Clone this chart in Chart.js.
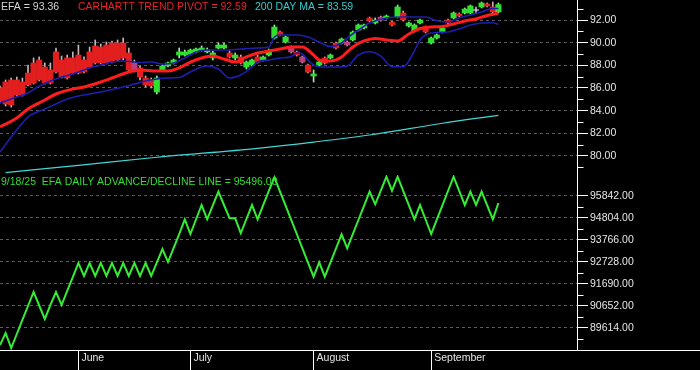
<!DOCTYPE html>
<html><head><meta charset="utf-8">
<script src="https://cdn.jsdelivr.net/npm/chart.js@4.4.1/dist/chart.umd.min.js"></script>
<style>html,body{margin:0;padding:0;background:#000;}canvas{display:block;}</style>
</head><body>
<canvas id="c" width="700" height="370"></canvas>
<script>
// ---------- DATA ----------
const dates = [
 '5/12','5/13','5/14','5/15','5/16','5/19','5/20','5/21','5/22','5/23','5/27','5/28','5/29','5/30',
 '6/2','6/3','6/4','6/5','6/6','6/9','6/10','6/11','6/12','6/13','6/16','6/17','6/18','6/20','6/23','6/24','6/25','6/26','6/27','6/30',
 '7/1','7/2','7/3','7/7','7/8','7/9','7/10','7/11','7/14','7/15','7/16','7/17','7/18','7/21','7/22','7/23','7/24','7/25','7/28','7/29','7/30','7/31',
 '8/1','8/4','8/5','8/6','8/7','8/8','8/11','8/12','8/13','8/14','8/15','8/18','8/19','8/20','8/21','8/22','8/25','8/26','8/27','8/28','8/29',
 '9/2','9/3','9/4','9/5','9/8','9/9','9/10','9/11','9/12','9/15','9/16','9/17','9/18'
];
const monthStarts = ['6/2','7/1','8/1','9/2'];
const monthNames = ['June','July','August','September'];

const upperTicks = [80,82,84,86,88,90,92];
const upperMinor = [79,81,83,85,87,89,91,93];
const lowerTicks = [89614,90652,91690,92728,93766,94804,95842];
const lowerMinor = [89095,90133,91171,92209,93247,94285,95323];

const opens = [86.00,86.53,86.71,86.71,86.53,87.32,88.21,88.47,87.85,87.59,89.18,88.47,88.65,88.65,
 88.91,88.47,89.18,89.71,89.62,89.79,89.97,89.97,89.97,89.09,88.21,87.76,86.88,86.71,85.65,87.59,87.94,88.21,88.91,88.91,
 89.00,89.18,89.35,89.18,88.65,89.53,89.53,89.09,88.65,88.74,87.85,88.03,88.74,88.47,88.91,90.41,90.94,90.06,89.62,89.18,88.74,88.03,
 87.06,88.03,88.65,88.65,89.97,89.97,90.06,90.24,91.12,91.29,92.18,91.74,92.26,92.18,91.82,92.26,92.62,91.47,91.03,91.74,91.38,
 89.97,90.41,90.94,92.00,92.18,92.53,92.62,92.62,92.90,93.15,93.41,93.15,92.71];
const highs = [86.18,86.71,86.88,86.97,86.88,88.03,88.65,88.74,88.21,88.21,89.53,88.82,88.91,89.18,
 89.79,88.74,89.62,90.24,89.88,90.06,90.15,90.24,90.41,89.53,88.47,87.94,87.06,86.88,87.06,88.03,88.29,88.56,89.53,89.35,
 89.44,89.53,89.71,89.53,89.26,89.97,89.97,89.26,89.09,88.91,88.38,88.56,88.91,88.82,89.44,91.56,91.03,90.59,89.71,89.26,88.82,88.12,
 87.59,88.38,88.74,89.00,90.06,90.41,90.15,91.03,91.65,91.65,92.26,92.18,92.35,92.44,91.91,93.32,92.79,91.82,91.65,92.09,91.47,
 90.50,90.77,91.38,92.09,92.71,92.62,93.06,93.32,93.15,93.59,93.50,93.59,93.50];
const lows = [84.68,84.41,84.32,85.29,85.29,86.18,86.35,86.62,86.35,86.35,87.32,86.88,86.79,87.24,
 87.24,87.32,87.77,88.12,88.12,88.12,88.21,88.38,88.47,87.41,87.41,86.71,86.09,86.00,85.47,87.50,87.85,88.12,88.65,88.82,
 88.91,89.09,89.26,89.09,88.47,89.44,89.44,88.65,88.47,88.12,87.68,87.94,88.21,88.38,88.82,90.32,90.59,89.97,89.09,88.82,88.21,87.32,
 86.53,87.94,88.12,88.56,89.44,89.88,89.71,90.15,91.03,91.21,91.82,91.65,91.91,92.09,91.47,92.18,91.91,91.38,90.94,91.65,90.85,
 89.88,90.32,90.85,91.65,92.09,92.26,92.53,92.53,92.62,93.06,93.15,92.62,92.62];
const closes = [84.85,84.59,84.50,85.38,85.38,86.27,86.44,86.71,86.44,86.44,87.41,86.97,86.88,87.32,
 87.32,87.41,87.85,88.21,88.21,88.21,88.29,88.47,88.65,87.59,87.59,86.97,86.27,86.18,86.88,87.94,88.21,88.47,89.18,89.18,
 89.35,89.44,89.53,89.35,89.09,89.79,89.79,88.74,88.91,88.21,88.29,88.47,88.29,88.74,89.18,91.38,90.68,90.50,89.18,88.91,88.29,87.41,
 87.24,88.29,88.21,88.91,89.53,90.32,89.79,90.94,91.56,91.56,91.91,92.00,92.00,92.35,91.56,93.15,92.00,91.74,91.56,92.00,90.94,
 90.41,90.68,91.29,91.74,92.62,92.35,92.97,93.24,92.86,93.50,93.24,92.71,93.36];
// sessions whose bar is shaded magenta in the reference
const magentaDays = ['6/16','7/28','7/30','8/11','8/19'];

const pivotDates = ['5/12','5/15','5/19','5/22','5/27','5/30','6/3','6/6','6/10','6/13','6/17','6/23','6/25','6/27','7/1','7/3','7/8','7/10','7/14','7/16','7/18','7/22','7/24','7/28','7/30','8/1','8/4','8/6','8/8','8/11','8/12','8/14','8/18','8/20','8/22','8/26','8/28','9/2','9/4','9/8','9/10','9/12','9/16','9/18'];
const pivotVals = [82.56,83.35,84.15,84.94,85.47,85.91,86.09,86.53,86.88,87.41,87.59,87.50,87.50,87.77,88.29,88.65,88.82,88.56,88.29,88.74,89.09,89.26,89.44,89.62,89.62,88.91,88.47,88.38,88.74,89.18,89.62,90.15,90.37,90.24,90.15,90.77,91.25,91.38,91.43,91.65,91.91,92.09,92.40,92.59];

const upperBandDates = ['5/12','5/14','5/16','5/19','5/21','5/23','5/28','5/30','6/4','6/6','6/10','6/12','6/17','6/20','6/24','6/26','6/30','7/2','7/7','7/10','7/15','7/18','7/22','7/23','7/24','7/29','7/31','8/4','8/6','8/8','8/11','8/13','8/15','8/20','8/25','8/29','9/3','9/5','9/9','9/11','9/15','9/17','9/18'];
const upperBandVals = [84.68,85.03,85.38,85.56,86.18,86.62,86.97,87.24,87.77,88.03,88.29,88.38,88.25,88.29,88.12,88.21,88.65,89.18,89.35,89.35,89.44,89.53,89.62,90.50,90.68,90.68,90.50,90.06,89.66,89.97,90.41,91.12,91.74,92.18,92.26,92.26,91.93,91.82,92.18,92.44,92.71,93.01,93.01];

const lowerBandDates = ['5/12','5/14','5/16','5/19','5/22','5/27','5/29','6/2','6/6','6/12','6/16','6/18','6/23','6/25','6/27','7/1','7/3','7/7','7/9','7/11','7/15','7/17','7/18','7/22','7/24','7/28','7/29','7/30','7/31','8/1','8/4','8/7','8/11','8/13','8/15','8/19','8/21','8/25','8/27','8/28','9/2','9/5','9/9','9/11','9/15','9/17','9/18'];
const lowerBandVals = [80.35,81.68,82.91,83.44,84.15,84.59,85.03,85.29,85.65,86.09,86.35,86.62,86.79,86.88,86.93,87.41,87.85,87.94,87.68,86.88,87.15,87.85,88.29,88.47,88.65,88.76,89.09,89.00,88.47,88.03,87.85,87.85,87.94,88.91,89.20,88.82,87.88,87.88,89.27,90.24,90.85,90.94,91.21,91.56,91.74,91.76,91.60];

const maDates = ['5/13','6/2','6/23','7/18','8/1','8/15','9/4','9/18'];
const maVals = [78.53,79.18,79.89,80.68,81.23,81.85,82.89,83.59];

const adLine = [88798,89364,88656,89317,89978,90638,91299,90662,90025,90685,91299,90685,91346,92006,
 92667,92053,92667,92053,92667,92053,92667,92053,92667,92053,92667,92053,92667,92053,92690,93327,92714,93374,94035,94729,
 94035,94719,95403,94729,95380,96031,95403,94776,94776,94068,94743,95403,94729,95403,96064,96710,96040,95370,94700,94035,93360,92690,
 92020,92700,92020,92690,93351,94021,93360,94026,94696,95365,96031,95436,96087,96738,96078,96738,96068,95399,94729,95403,94719,
 94035,94710,95389,96064,96738,96073,95403,96031,95403,96031,95380,94729,95496];

const adDateLabel = '9/18/25';
const tickerName = 'EFA';

// ---------- CHART ----------
const FONT = '"Liberation Sans", Arial, sans-serif';
Chart.defaults.font.family = FONT;
const idx = d => dates.indexOf(d);
const pts = (ds, vs) => ds.map((d, i) => ({x: idx(d), y: vs[i]}));
const candleColor = i => {
  if (magentaDays.includes(dates[i])) return '#b8407e';
  if (Math.abs(closes[i] - opens[i]) < 0.05) return '#dcdcf0';
  return closes[i] > opens[i] ? '#2fe02f' : '#e21e1e';
};
const wickColor = i => closes[i] > opens[i] ? '#a8e8a8' : '#c8b4b4';

const overlay = {
  id: 'overlay',
  afterDraw(chart) {
    const {ctx, scales, chartArea} = chart;
    ctx.save();
    ctx.strokeStyle = '#ffffff'; ctx.lineWidth = 1; ctx.setLineDash([]);
    const ax = Math.round(chartArea.right) + 0.5;
    const minor = (scale, v) => {
      const y = Math.round(scale.getPixelForValue(v)) + 0.5;
      ctx.beginPath(); ctx.moveTo(ax, y); ctx.lineTo(ax + 6, y); ctx.stroke();
    };
    upperMinor.forEach(v => minor(scales.y, v));
    lowerMinor.forEach(v => minor(scales.y2, v));
    const yb = Math.round(chartArea.bottom) + 0.5;
    ctx.beginPath(); ctx.moveTo(ax, yb); ctx.lineTo(chart.width, yb); ctx.stroke();

    ctx.font = '10.5px ' + FONT; ctx.textAlign = 'left'; ctx.textBaseline = 'alphabetic';
    const last = closes.length - 1;
    ctx.fillStyle = '#d4d4d4';
    ctx.fillText(tickerName + ' = ' + closes[last].toFixed(2), 1, 10);
    ctx.fillStyle = '#e8222a';
    ctx.fillText('CARHARTT TREND PIVOT = ' + pivotVals[pivotVals.length-1].toFixed(2), 78, 10);
    ctx.fillStyle = '#33cccc';
    ctx.fillText('200 DAY MA = ' + maVals[maVals.length-1].toFixed(2), 255, 10);
    ctx.fillStyle = '#33dd33';
    ctx.fillText(adDateLabel + '  ' + tickerName + ' DAILY ADVANCE/DECLINE LINE = ' + adLine[adLine.length-1].toFixed(2), 1, 185);
    ctx.restore();
  }
};

const noPadY = s => { s.width = 123; s.paddingTop = 0; s.paddingBottom = 0; s.paddingLeft = 0; s.paddingRight = 0; };
const yTickOpts = {color: '#e6e6e6', font: {size: 10.5, family: FONT}, padding: 2, autoSkip: false, callback: v => Number(v).toFixed(2)};
const yGrid = {color: '#5c5c5c', lineWidth: 1, tickColor: '#ffffff', tickLength: 11, tickWidth: 1};
const yBorder = {display: true, color: '#ffffff', width: 1, dash: [3, 3]};

new Chart(document.getElementById('c'), {
  data: {
    datasets: [
      {type: 'line', data: adLine.map((v, i) => ({x: i, y: v})), xAxisID: 'x', yAxisID: 'y2',
       borderColor: '#33ee33', borderWidth: 2, pointRadius: 0, tension: 0, order: 1},
      {type: 'line', data: pts(pivotDates, pivotVals), xAxisID: 'x', yAxisID: 'y',
       borderColor: '#ff1c1c', borderWidth: 3, pointRadius: 0, cubicInterpolationMode: 'monotone', order: 2},
      {type: 'line', data: pts(upperBandDates, upperBandVals), xAxisID: 'x', yAxisID: 'y',
       borderColor: '#1e1eb0', borderWidth: 1.6, pointRadius: 0, cubicInterpolationMode: 'monotone', order: 3},
      {type: 'line', data: pts(lowerBandDates, lowerBandVals), xAxisID: 'x', yAxisID: 'y',
       borderColor: '#1e1eb0', borderWidth: 1.6, pointRadius: 0, cubicInterpolationMode: 'monotone', order: 3},
      {type: 'line', data: pts(maDates, maVals), xAxisID: 'x', yAxisID: 'y',
       borderColor: '#44d6d6', borderWidth: 1.2, pointRadius: 0, cubicInterpolationMode: 'monotone', order: 3},
      {type: 'bar', data: dates.map((d, i) => ({x: i, y: [opens[i], closes[i]]})), xAxisID: 'x', yAxisID: 'y',
       backgroundColor: dates.map((d, i) => candleColor(i)), borderWidth: 0, barThickness: 5.5, grouped: false, order: 5},
      {type: 'bar', data: dates.map((d, i) => ({x: i, y: [lows[i], highs[i]]})), xAxisID: 'x', yAxisID: 'y',
       backgroundColor: dates.map((d, i) => wickColor(i)), borderWidth: 0, barThickness: 1, grouped: false, order: 6}
    ]
  },
  options: {
    responsive: false, animation: false, devicePixelRatio: 1, events: [],
    layout: {padding: 0},
    plugins: {legend: {display: false}, tooltip: {enabled: false}},
    scales: {
      x: {
        type: 'linear', position: 'bottom', bounds: 'data', min: 0, max: 103.036, offset: false,
        afterBuildTicks: s => { s.ticks = monthStarts.map(d => ({value: idx(d)})); },
        afterFit: s => { s.height = 20; s.paddingLeft = 0; s.paddingRight = 0; s.paddingTop = 0; s.paddingBottom = 0; },
        ticks: {color: '#e6e6e6', font: {size: 10.5, family: FONT}, align: 'start', labelOffset: 3, padding: -18,
                maxRotation: 0, autoSkip: false, callback: (v, i) => monthNames[i]},
        grid: {offset: false, drawOnChartArea: false, tickLength: 20, tickColor: '#ffffff', color: '#ffffff'},
        border: {display: true, color: '#ffffff', width: 1}
      },
      y: {
        type: 'linear', position: 'right', stack: 'panels', stackWeight: 175, bounds: 'data',
        min: 78.323, max: 93.765,
        afterBuildTicks: s => { s.ticks = upperTicks.map(v => ({value: v})); },
        afterFit: noPadY,
        ticks: yTickOpts, grid: yGrid, border: yBorder
      },
      y2: {
        type: 'linear', position: 'right', stack: 'panels', stackWeight: 175, bounds: 'data',
        min: 88562, max: 96819,
        afterBuildTicks: s => { s.ticks = lowerTicks.map(v => ({value: v})); },
        afterFit: noPadY,
        ticks: yTickOpts, grid: yGrid, border: yBorder
      }
    }
  },
  plugins: [overlay]
});
</script>
</body></html>
